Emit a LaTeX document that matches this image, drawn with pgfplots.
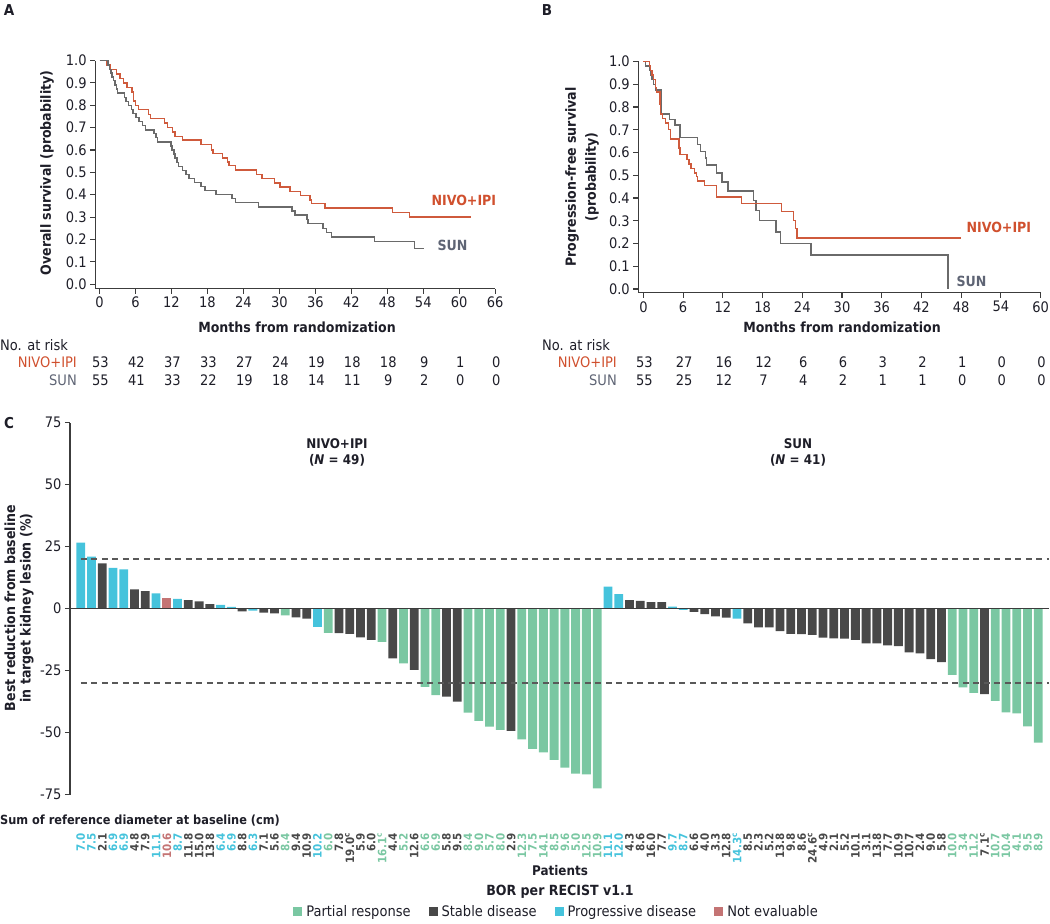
\documentclass[border=0pt]{standalone}
\usepackage{fontspec}
\setmainfont{DejaVu Sans Condensed}
\usepackage{pgfplots}
\pgfplotsset{compat=1.18}
\definecolor{nivo}{HTML}{CF5A3C}
\definecolor{nivoT}{HTML}{D0502E}
\definecolor{sun}{HTML}{6A6A6A}
\definecolor{sunT}{HTML}{5E6474}
\definecolor{txt}{HTML}{1E1E28}
\definecolor{axc}{HTML}{3C3C3C}
\definecolor{gPR}{HTML}{7AC7A2}
\definecolor{dSD}{HTML}{484848}
\definecolor{cPD}{HTML}{45C3DC}
\definecolor{rNE}{HTML}{C47474}
\newcommand\fT{\fontsize{14.5}{17}\selectfont}
\newcommand\fL{\fontsize{14}{16}\selectfont\bfseries}
\newcommand\fS{\fontsize{11.5}{12}\selectfont\bfseries}
\newcommand\G[1]{\textcolor{gPR}{#1}}
\newcommand\D[1]{\textcolor{dSD}{#1}}
\newcommand\C[1]{\textcolor{cPD}{#1}}
\newcommand\R[1]{\textcolor{rNE}{#1}}
\newcommand\supc{\textsuperscript{c}}
\newcommand\gap{\rule{16pt}{0pt}}
\pgfplotsset{km/.style={
  scale only axis, anchor=south west, clip=false,
  axis x line*=bottom, axis y line*=left,
  axis line style={axc, line width=1.1pt},
  tick style={axc, line width=1.1pt},
  major tick length=5pt, tick align=outside,
  tick label style={font=\fT, text=txt},
  /pgf/number format/assume math mode=true,
  ytick={0,0.1,0.2,0.3,0.4,0.5,0.6,0.7,0.8,0.9,1.0},
  yticklabels={0.0,0.1,0.2,0.3,0.4,0.5,0.6,0.7,0.8,0.9,1.0},
}}
\begin{document}
\begin{tikzpicture}
\useasboundingbox (0pt,0pt) rectangle (1050pt,924pt);
% ---------------- Panel A ----------------
\begin{axis}[km, at={(95.2pt,635.4pt)}, width=400pt, height=228pt,
  xmin=-0.72, xmax=66, ymin=-0.02, ymax=1, xtick={0,6,...,66}]
\addplot[const plot, nivo, line width=1.4pt] coordinates {
(0,1) (1.2,0.98) (1.8,0.96) (2.8,0.94) (3.4,0.92) (4.0,0.90) (4.6,0.88) (5.4,0.86) (5.7,0.82) (6.0,0.80) (6.5,0.78) (8.2,0.76) (8.5,0.74) (10.8,0.72) (11.3,0.70) (12.2,0.68) (12.6,0.66) (13.8,0.645) (16.9,0.625) (18.7,0.60) (18.9,0.585) (20.5,0.565) (21.3,0.547) (21.6,0.53) (22.7,0.51) (26.2,0.49) (27.1,0.472) (29.2,0.453) (30.1,0.434) (31.8,0.415) (33.5,0.396) (35.1,0.377) (35.4,0.36) (37.6,0.34) (48.9,0.32) (51.7,0.30) (62,0.30)};
\addplot[const plot, sun, line width=1.4pt] coordinates {
(0,1)(1.4,0.98)(1.7,0.96)(1.9,0.945)(2.1,0.927)(2.3,0.91)(2.6,0.89)(2.8,0.873)(2.95,0.855)(4.15,0.836)(4.4,0.818)(4.8,0.80)(5.3,0.782)(5.6,0.764)(6.1,0.745)(6.6,0.727)(7.2,0.709)(7.7,0.69)(9.1,0.673)(9.4,0.655)(9.7,0.636)(11.9,0.618)(12.1,0.60)(12.4,0.582)(12.6,0.564)(12.9,0.545)(13.2,0.527)(13.8,0.509)(14.4,0.49)(14.9,0.473)(15.8,0.455)(16.9,0.436)(17.6,0.418)(19.4,0.40)(22.1,0.382)(22.7,0.364)(26.5,0.345)(32.1,0.327)(32.6,0.309)(34.6,0.29)(34.8,0.27)(37.3,0.25)(37.9,0.23)(38.7,0.21)(45.9,0.19)(52.5,0.16)(54.1,0.16)};
\end{axis}
% ---------------- Panel B ----------------
\begin{axis}[km, at={(638.3pt,631.2pt)}, width=402.3pt, height=231.3pt,
  xmin=-0.77, xmax=60, ymin=-0.0167, ymax=1, xtick={0,6,...,60}]
\addplot[const plot, sun, line width=1.4pt] coordinates {
(0,1)(0.3,0.98)(0.9,0.96)(1.1,0.94)(1.3,0.92)(1.5,0.90)(1.8,0.875)(2.7,0.77)(3.9,0.745)(4.8,0.72)(5.5,0.665)(8.2,0.635)(8.6,0.605)(9.4,0.575)(9.5,0.545)(11.0,0.51)(11.9,0.47)(12.8,0.43)(16.6,0.39)(17.0,0.345)(17.5,0.30)(20.0,0.25)(20.7,0.20)(25.3,0.15)(46.0,0.0)};
\addplot[const plot, nivo, line width=1.4pt] coordinates {
(0,1)(0.9,0.98)(1.1,0.96)(1.3,0.94)(1.5,0.92)(1.8,0.885)(2.0,0.866)(2.5,0.81)(2.6,0.77)(2.9,0.75)(3.3,0.73)(3.8,0.70)(4.1,0.66)(5.4,0.62)(5.5,0.59)(6.6,0.57)(6.9,0.55)(7.2,0.53)(7.7,0.51)(8.0,0.495)(8.2,0.475)(9.2,0.455)(11.0,0.405)(14.8,0.375)(20.9,0.34)(22.7,0.30)(23.0,0.265)(23.2,0.225)(48.0,0.225)};
\end{axis}
% ---------------- Panel C ----------------
\begin{axis}[scale only axis, anchor=south west, at={(70pt,129.3pt)}, width=979pt, height=372pt,
  xmin=0, xmax=91, ymin=-75, ymax=75, clip=false,
  axis y line*=left, axis x line*=bottom,
  x axis line style={draw=none}, y axis line style={axc, line width=1.3pt},
  ytick={-75,-50,-25,0,25,50,75}, yticklabels={-75,-50,-25,0,25,50,75},
  ytick style={axc, line width=1.3pt}, major tick length=5pt, tick align=outside,
  yticklabel style={font=\fT, text=txt},
  xtick={1,...,90}, xtick style={draw=none},
  xticklabel style={font=\fS, yshift=-33pt, rotate=90, anchor=east, inner sep=0pt},
  xticklabels={\C{7.0},\C{7.5},\D{2.1},\C{6.9},\C{6.9},\D{4.8},\D{7.9},\C{11.1},\R{10.6},\C{8.7},\D{11.8},\D{15.0},\D{13.8},\C{6.4},\C{6.9},\D{8.8},\C{6.3},\D{7.1},\D{5.6},\G{8.4},\D{9.4},\D{10.9},\C{10.2},\G{6.0},\D{7.8},\D{19.0\supc},\D{5.9},\D{6.0},\G{16.1\supc},\D{4.4},\G{5.2},\D{12.6},\G{6.6},\G{6.9},\D{5.8},\D{9.5},\G{8.4},\G{9.0},\G{5.7},\G{8.0},\D{2.9},\G{12.3},\G{7.5},\G{14.1},\G{8.5},\G{9.6},\G{5.0},\G{12.5},\G{10.9},
  \C{11.1},\C{12.0},\D{4.3},\D{8.6},\D{16.0},\D{7.7},\C{9.7},\C{8.7},\D{6.6},\D{4.0},\D{3.3},\D{12.8},\C{14.3\supc},\D{8.5},\D{2.3},\D{5.2},\D{13.8},\D{9.8},\D{8.6},\D{24.6\supc},\D{4.9},\D{2.1},\D{5.2},\D{10.1},\D{3.1},\D{13.8},\D{7.7},\D{10.9},\D{10.7},\D{2.4},\D{9.0},\D{5.8},\G{10.0},\G{3.4},\G{11.2},\D{7.1\supc},\G{10.7},\G{10.4},\G{4.1},\G{9.5},\G{8.9}},
  legend style={at={(0.497,-0.315)}, anchor=center, draw=none, fill=none, font=\fT, text=txt,
    legend columns=4,
    /tikz/every odd column/.append style={column sep=2pt}},
  legend cell align=left]
\addplot[ybar, bar width=8.8pt, bar shift=0pt, fill=gPR, draw=none,
  legend image code/.code={\fill[gPR] (0pt,-4.5pt) rectangle (9pt,4.5pt);}] coordinates {
(20,-2.7)(24,-9.7)(29,-13.4)(31,-22.0)(33,-31.5)(34,-34.8)(37,-41.9)(38,-45.2)(39,-47.6)(40,-48.9)(42,-52.7)(43,-56.5)(44,-57.9)(45,-61.0)(46,-64.1)(47,-66.5)(48,-66.8)(49,-72.5)(82,-26.7)(83,-31.7)(84,-33.9)(86,-37.2)(87,-41.8)(88,-42.2)(89,-47.5)(90,-54.0)};
\addlegendentry{Partial response\gap}
\addplot[ybar, bar width=8.8pt, bar shift=0pt, fill=dSD, draw=none,
  legend image code/.code={\fill[dSD] (0pt,-4.5pt) rectangle (9pt,4.5pt);}] coordinates {
(3,18.3)(6,7.8)(7,7.1)(11,3.5)(12,3.0)(13,1.8)(16,-1.1)(18,-1.6)(19,-1.9)(21,-3.5)(22,-4.0)(25,-9.9)(26,-10.2)(27,-11.6)(28,-12.6)(30,-20.0)(32,-24.7)(35,-35.5)(36,-37.5)(41,-49.3)(52,3.5)(53,3.2)(54,2.7)(55,2.7)(58,-1.3)(59,-2.2)(60,-3.1)(61,-3.6)(63,-5.9)(64,-7.5)(65,-7.5)(66,-9.0)(67,-10.2)(68,-10.3)(69,-10.6)(70,-11.7)(71,-12.0)(72,-12.1)(73,-12.6)(74,-14.0)(75,-14.0)(76,-14.8)(77,-15.1)(78,-17.6)(79,-18.0)(80,-20.3)(81,-21.5)(85,-34.4)};
\addlegendentry{Stable disease\gap}
\addplot[ybar, bar width=8.8pt, bar shift=0pt, fill=cPD, draw=none,
  legend image code/.code={\fill[cPD] (0pt,-4.5pt) rectangle (9pt,4.5pt);}] coordinates {
(1,26.6)(2,21.0)(4,16.5)(5,15.9)(8,6.2)(10,4.0)(14,1.5)(15,0.7)(17,-0.8)(23,-7.3)(50,8.9)(51,5.9)(56,0.8)(57,-0.5)(62,-4.0)};
\addlegendentry{Progressive disease\gap}
\addplot[ybar, bar width=8.8pt, bar shift=0pt, fill=rNE, draw=none,
  legend image code/.code={\fill[rNE] (0pt,-4.5pt) rectangle (9pt,4.5pt);}] coordinates {(9,4.3)};
\addlegendentry{Not evaluable}
\draw[axc, line width=1.3pt] (axis cs:0,0) -- (axis cs:91,0);
\draw[axc!85, line width=1.2pt, dash pattern=on 6pt off 4.5pt] (axis cs:1,20) -- (axis cs:91,20);
\draw[axc!85, line width=1.2pt, dash pattern=on 6pt off 4.5pt] (axis cs:1,-30) -- (axis cs:91,-30);
\end{axis}
% ---------------- Annotations ----------------
\begin{scope}[shift={(0pt,924pt)}, x=1pt, y=-1pt]
\node[font=\fontsize{15}{17}\selectfont\bfseries, text=txt] at (9,10) {A};
\node[font=\fontsize{15}{17}\selectfont\bfseries, text=txt] at (547,10) {B};
\node[font=\fontsize{15}{17}\selectfont\bfseries, text=txt] at (9,423) {C};
\node[rotate=90, font=\fL, text=txt] at (47,173) {Overall survival (probability)};
\node[rotate=90, font=\fontsize{14}{20}\selectfont\bfseries, text=txt, align=center] at (582,177) {Progression-free survival\\(probability)};
\node[font=\fL, text=txt] at (297,327) {Months from randomization};
\node[font=\fL, text=txt] at (842,327) {Months from randomization};
\node[font=\fL, text=nivoT, anchor=west] at (428,200) {NIVO+IPI};
\node[font=\fL, text=sunT, anchor=west] at (434,245) {SUN};
\node[font=\fL, text=nivoT, anchor=west] at (963,227) {NIVO+IPI};
\node[font=\fL, text=sunT, anchor=west] at (953,281) {SUN};
% risk tables
\node[font=\fT, text=txt, anchor=west, inner sep=0pt] at (0,345) {No. at risk};
\node[font=\fT, text=nivoT, anchor=east, inner sep=0pt] at (77,362) {NIVO+IPI};
\node[font=\fT, text=sunT, anchor=east, inner sep=0pt] at (77,380) {SUN};
\foreach \v [count=\i from 0] in {53,42,37,33,27,24,19,18,18,9,1,0}
  \node[font=\fT, text=txt] at ({100.5+35.97*\i},362) {\v};
\foreach \v [count=\i from 0] in {55,41,33,22,19,18,14,11,9,2,0,0}
  \node[font=\fT, text=txt] at ({100.5+35.97*\i},380) {\v};
\node[font=\fT, text=txt, anchor=west, inner sep=0pt] at (542,345) {No. at risk};
\node[font=\fT, text=nivoT, anchor=east, inner sep=0pt] at (617,362) {NIVO+IPI};
\node[font=\fT, text=sunT, anchor=east, inner sep=0pt] at (617,380) {SUN};
\foreach \v [count=\i from 0] in {53,27,16,12,6,6,3,2,1,0,0}
  \node[font=\fT, text=txt] at ({644.4+39.72*\i},362) {\v};
\foreach \v [count=\i from 0] in {55,25,12,7,4,2,1,1,0,0,0}
  \node[font=\fT, text=txt] at ({644.4+39.72*\i},380) {\v};
% panel C texts
\node[rotate=90, font=\fontsize{14}{15.5}\selectfont\bfseries, text=txt, align=center] at (19,608) {Best reduction from baseline\\in target kidney lesion (\%)};
\node[font=\fontsize{13.3}{16}\selectfont\bfseries, text=txt, align=center] at (337,452) {NIVO+IPI\\(\textit{N} = 49)};
\node[font=\fontsize{13.3}{16}\selectfont\bfseries, text=txt, align=center] at (798,452) {SUN\\(\textit{N} = 41)};
\node[font=\fontsize{12.6}{15}\selectfont\bfseries, text=txt, anchor=west, inner sep=0pt] at (0,821) {Sum of reference diameter at baseline (cm)};
\node[font=\fontsize{13.3}{16}\selectfont\bfseries, text=txt] at (560,871) {Patients};
\node[font=\fontsize{14}{16}\selectfont\bfseries, text=txt] at (560,892) {BOR per RECIST v1.1};
\end{scope}
\end{tikzpicture}
\end{document}
